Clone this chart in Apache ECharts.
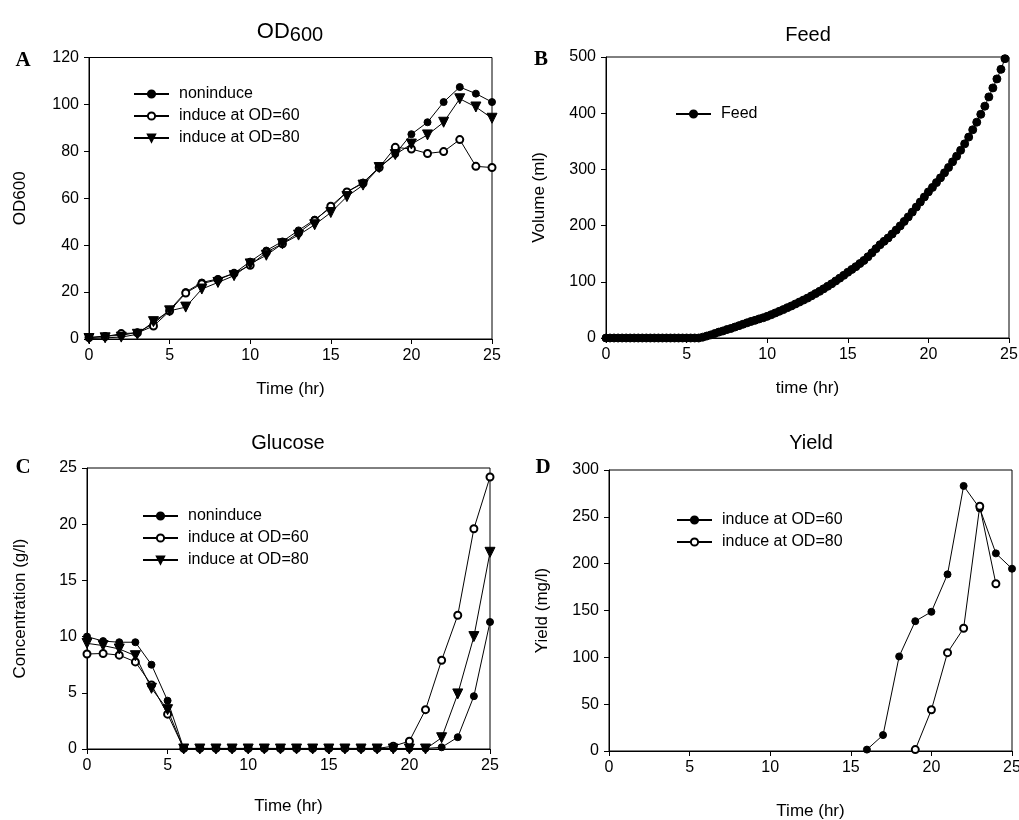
<!DOCTYPE html>
<html>
<head>
<meta charset="utf-8">
<script src="https://cdn.jsdelivr.net/npm/echarts@6/dist/echarts.min.js"></script>
<style>
html, body { margin: 0; background: #fff; }
#main { width: 1019px; height: 820px; }
</style>
</head>
<body>
<div id="main"></div>
<script>
// --- data ---
var hours = [0, 1, 2, 3, 4, 5, 6, 7, 8, 9, 10, 11, 12, 13, 14, 15, 16, 17, 18, 19, 20, 21, 22, 23, 24, 25];

// A: OD600
var odNonInduce = [0.6, 1.3, 1.5, 2.9, 6.5, 12.4, 20, 24.1, 25.6, 28, 33, 37.7, 41.6, 46.3, 50.9, 56, 62.7, 66.7, 73.1, 78.9, 87.3, 92.4, 101, 107.4, 104.6, 101];
var odInduce60 = [0.6, 1, 2.3, 2.6, 5.5, 11.9, 19.6, 23.6, 25.3, 28, 31.4, 37, 40.6, 45.3, 50.4, 56.6, 62.7, 66.4, 73.1, 81.7, 81, 79.1, 79.9, 85, 73.6, 73.1];
var odInduce80 = [0.2, 0.5, 0.8, 2, 7.4, 12, 13.6, 21.3, 24.1, 27, 32, 35.7, 40.6, 44.3, 48.7, 53.9, 60.7, 65.6, 73.1, 78.6, 83.1, 87, 92.4, 102.4, 98.9, 94.1];

// B: feed volume
var feedTime = [0, 0.25, 0.5, 0.75, 1, 1.25, 1.5, 1.75, 2, 2.25, 2.5, 2.75, 3, 3.25, 3.5, 3.75, 4, 4.25, 4.5, 4.75, 5, 5.25, 5.5, 5.75,
  6, 6.25, 6.5, 6.75, 7, 7.25, 7.5, 7.75, 8, 8.25, 8.5, 8.75, 9, 9.25, 9.5, 9.75, 10, 10.25, 10.5, 10.75, 11, 11.25, 11.5, 11.75,
  12, 12.25, 12.5, 12.75, 13, 13.25, 13.5, 13.75, 14, 14.25, 14.5, 14.75, 15, 15.25, 15.5, 15.75, 16, 16.25, 16.5, 16.75,
  17, 17.25, 17.5, 17.75, 18, 18.25, 18.5, 18.75, 19, 19.25, 19.5, 19.75, 20, 20.25, 20.5, 20.75, 21, 21.25, 21.5, 21.75,
  22, 22.25, 22.5, 22.75, 23, 23.25, 23.5, 23.75, 24, 24.25, 24.5, 24.75];
var feedVolume = [0, 0, 0, 0, 0, 0, 0, 0, 0, 0, 0, 0, 0, 0, 0, 0, 0, 0, 0, 0, 0, 0, 0, 0,
  1.5, 3.5, 5.5, 8, 10.5, 12.5, 15, 17, 19.5, 22, 24.5, 27, 29.5, 31.5, 34, 36, 38.5, 41.5, 44.5, 47.5, 50.5, 54, 57, 60.5,
  64, 67.5, 71, 75, 79, 83, 87.5, 92, 96.5, 101.5, 106.5, 111.5, 117, 122, 127, 132.5, 138, 144.5, 151.5, 159,
  166, 172, 178, 185, 192, 199.5, 207.5, 215.5, 224, 233, 242, 251, 260, 268, 276.5, 285, 294, 303.5, 313.5, 323.5,
  334, 345.5, 357.5, 370.5, 384, 398, 412.5, 429, 445, 461, 478, 497];

// C: glucose
var gluNonInduce = [10, 9.6, 9.5, 9.5, 7.5, 4.3, 0.05, 0.05, 0.05, 0.05, 0.05, 0.05, 0.05, 0.05, 0.05, 0.05, 0.05, 0.05, 0.05, 0.05, 0.05, 0.05, 0.15, 1.05, 4.7, 11.3];
var gluInduce60 = [8.45, 8.5, 8.35, 7.75, 5.7, 3.1, 0.05, 0.05, 0.05, 0.05, 0.05, 0.05, 0.05, 0.05, 0.05, 0.05, 0.05, 0.05, 0.05, 0.25, 0.7, 3.5, 7.9, 11.9, 19.6, 24.2];
var gluInduce80 = [9.4, 9.2, 8.9, 8.3, 5.4, 3.5, 0, 0, 0, 0, 0, 0, 0, 0, 0, 0, 0, 0, 0, 0, 0, 0, 1, 4.9, 10, 17.5];

// D: yield
var yieldTime60 = [16, 17, 18, 19, 20, 21, 22, 23, 24, 25];
var yield60 = [1.5, 17, 101, 138.6, 148.6, 188.6, 283, 259, 211, 194.6];
var yieldTime80 = [19, 20, 21, 22, 23, 24];
var yield80 = [1.5, 44, 105, 131, 261.4, 178.6];

// axis ranges
var timeAxis = { min: 0, max: 25, interval: 5 };
var odAxis = { min: 0, max: 120, interval: 20 };
var volAxis = { min: 0, max: 500, interval: 100 };
var gluAxis = { min: 0, max: 25, interval: 5 };
var yieldAxis = { min: 0, max: 300, interval: 50 };

var FONT = '"Liberation Sans", Arial, sans-serif';

function pairs(xs, ys) {
    return xs.map(function (x, i) { return [x, ys[i]]; });
}

function xAx(grid, range, name, gap) {
    return {
        type: 'value', gridIndex: grid, min: range.min, max: range.max, interval: range.interval,
        name: name, nameLocation: 'middle', nameGap: gap,
        nameTextStyle: { fontFamily: FONT, fontSize: 17, color: '#000' },
        axisLine: { show: true, lineStyle: { color: '#000', width: 1 } },
        axisTick: { show: true, inside: false, length: 5, lineStyle: { color: '#000' } },
        axisLabel: { fontFamily: FONT, fontSize: 16, color: '#000', margin: 9 },
        splitLine: { show: false }
    };
}

function yAx(grid, range, name, gap) {
    return {
        type: 'value', gridIndex: grid, min: range.min, max: range.max, interval: range.interval,
        name: name, nameLocation: 'middle', nameGap: gap,
        nameTextStyle: { fontFamily: FONT, fontSize: 17, color: '#000' },
        axisLine: { show: true, lineStyle: { color: '#000', width: 1 } },
        axisTick: { show: true, inside: false, length: 5, lineStyle: { color: '#000' } },
        axisLabel: { fontFamily: FONT, fontSize: 16, color: '#000', margin: 10 },
        splitLine: { show: false }
    };
}

function ser(id, idx, data, symbol, size) {
    var s = {
        name: id, type: 'line', xAxisIndex: idx, yAxisIndex: idx, data: data,
        symbol: symbol, symbolSize: size, showAllSymbol: true, clip: false,
        lineStyle: { color: '#000', width: 1 },
        itemStyle: { color: '#000', borderColor: '#000', borderWidth: 1 },
        emphasis: { disabled: true }
    };
    if (symbol === 'triangle') s.symbolRotate = 180;
    return s;
}

function legendAt(names, left, top) {
    return {
        data: names, left: left, top: top, orient: 'vertical', padding: 0,
        itemWidth: 35, itemHeight: 9, itemGap: 6, selectedMode: false,
        textStyle: { fontFamily: FONT, fontSize: 16, color: '#000', padding: [0, 0, 0, 5] },
        formatter: function (n) { return n.split('|')[1]; }
    };
}

var gridBox = { show: true, borderColor: '#000', borderWidth: 1, containLabel: false, outerBoundsMode: 'none' };

var myChart = echarts.init(document.getElementById('main'));

var option = {
    animation: false,
    backgroundColor: '#fff',
    title: [
        { text: '{a|OD}{b|600}', left: 290, top: 21, textAlign: 'center', padding: 0,
          textStyle: { fontWeight: 'normal', rich: {
              a: { fontFamily: FONT, fontSize: 22, fontWeight: 'normal', color: '#000', lineHeight: 24, verticalAlign: 'top' },
              b: { fontFamily: FONT, fontSize: 20, fontWeight: 'normal', color: '#000', lineHeight: 16, verticalAlign: 'bottom' } } } },
        { text: 'Feed', left: 808, top: 23, textAlign: 'center', padding: 0,
          textStyle: { fontFamily: FONT, fontSize: 20, fontWeight: 'normal', color: '#000', lineHeight: 24 } },
        { text: 'Glucose', left: 288, top: 431, textAlign: 'center', padding: 0,
          textStyle: { fontFamily: FONT, fontSize: 20, fontWeight: 'normal', color: '#000', lineHeight: 24 } },
        { text: 'Yield', left: 811, top: 431, textAlign: 'center', padding: 0,
          textStyle: { fontFamily: FONT, fontSize: 20, fontWeight: 'normal', color: '#000', lineHeight: 24 } }
    ],
    graphic: [
        { type: 'text', x: 23, y: 61, style: { text: 'A', font: 'bold 21px "Liberation Serif", serif', fill: '#000', textAlign: 'center', textVerticalAlign: 'middle' } },
        { type: 'text', x: 541, y: 60, style: { text: 'B', font: 'bold 21px "Liberation Serif", serif', fill: '#000', textAlign: 'center', textVerticalAlign: 'middle' } },
        { type: 'text', x: 23, y: 468, style: { text: 'C', font: 'bold 21px "Liberation Serif", serif', fill: '#000', textAlign: 'center', textVerticalAlign: 'middle' } },
        { type: 'text', x: 543, y: 468, style: { text: 'D', font: 'bold 21px "Liberation Serif", serif', fill: '#000', textAlign: 'center', textVerticalAlign: 'middle' } }
    ],
    legend: [
        legendAt(['A|noninduce', 'A|induce at OD=60', 'A|induce at OD=80'], 133, 86),
        legendAt(['B|Feed'], 675, 106),
        legendAt(['C|noninduce', 'C|induce at OD=60', 'C|induce at OD=80'], 142, 508),
        legendAt(['D|induce at OD=60', 'D|induce at OD=80'], 676, 512)
    ],
    grid: [
        Object.assign({ left: 89, top: 57.5, width: 403, height: 281.5 }, gridBox),
        Object.assign({ left: 606, top: 57, width: 403, height: 281 }, gridBox),
        Object.assign({ left: 87, top: 468, width: 403, height: 281 }, gridBox),
        Object.assign({ left: 609, top: 470, width: 403, height: 281 }, gridBox)
    ],
    xAxis: [
        xAx(0, timeAxis, 'Time (hr)', 42),
        xAx(1, timeAxis, 'time (hr)', 42),
        xAx(2, timeAxis, 'Time (hr)', 49),
        xAx(3, timeAxis, 'Time (hr)', 52)
    ],
    yAxis: [
        yAx(0, odAxis, 'OD600', 60),
        yAx(1, volAxis, 'Volume (ml)', 58),
        yAx(2, gluAxis, 'Concentration (g/l)', 58),
        yAx(3, yieldAxis, 'Yield (mg/l)', 58)
    ],
    series: [
        ser('A|noninduce', 0, pairs(hours, odNonInduce), 'circle', 7),
        ser('A|induce at OD=60', 0, pairs(hours, odInduce60), 'emptyCircle', 7),
        ser('A|induce at OD=80', 0, pairs(hours, odInduce80), 'triangle', 10),
        ser('B|Feed', 1, pairs(feedTime, feedVolume), 'circle', 8),
        ser('C|noninduce', 2, pairs(hours, gluNonInduce), 'circle', 7),
        ser('C|induce at OD=60', 2, pairs(hours, gluInduce60), 'emptyCircle', 7),
        ser('C|induce at OD=80', 2, pairs(hours, gluInduce80), 'triangle', 10),
        ser('D|induce at OD=60', 3, pairs(yieldTime60, yield60), 'circle', 7),
        ser('D|induce at OD=80', 3, pairs(yieldTime80, yield80), 'emptyCircle', 7)
    ]
};

myChart.setOption(option);
</script>
</body>
</html>
